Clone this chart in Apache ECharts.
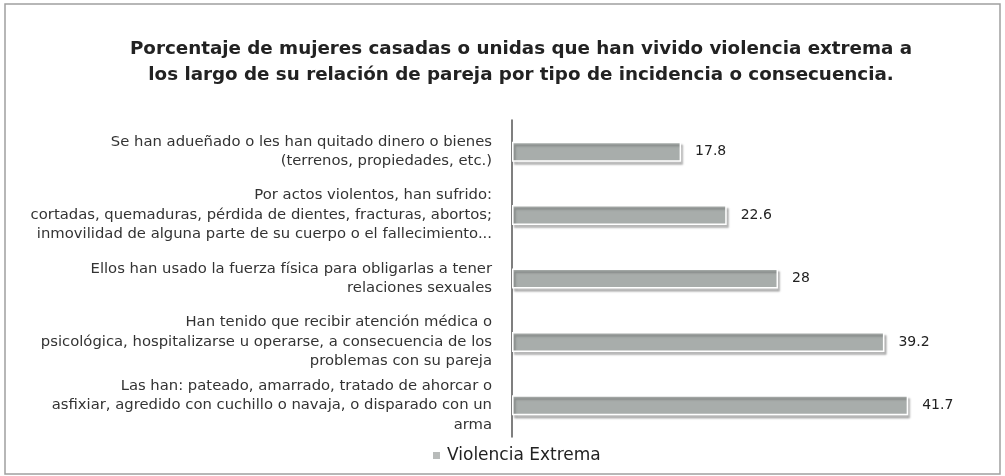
<!DOCTYPE html>
<html><head><meta charset="utf-8">
<script src="https://cdn.jsdelivr.net/npm/echarts@6/dist/echarts.min.js"></script>
<style>html,body{margin:0;padding:0;background:#fff}#c{width:1005px;height:476px}</style>
</head><body><div id="c"></div>
<script>
const titleText = 'Porcentaje de mujeres casadas o unidas que han vivido violencia extrema a\nlos largo de su relación de pareja por tipo de incidencia o consecuencia.';
const categories = [
  'Se han adueñado o les han quitado dinero o bienes\n(terrenos, propiedades, etc.)',
  'Por actos violentos, han sufrido:\ncortadas, quemaduras, pérdida de dientes, fracturas, abortos;\ninmovilidad de alguna parte de su cuerpo o el fallecimiento...',
  'Ellos han usado la fuerza física para obligarlas a tener\nrelaciones sexuales',
  'Han tenido que recibir atención médica o\npsicológica, hospitalizarse u operarse, a consecuencia de los\nproblemas con su pareja',
  'Las han: pateado, amarrado, tratado de ahorcar o\nasfixiar, agredido con cuchillo o navaja, o disparado con un\narma'
];
const seriesName = 'Violencia Extrema';
const values = [17.8, 22.6, 28, 39.2, 41.7];

const FONT = 'DejaVu Sans, Verdana, sans-serif';
const chart = echarts.init(document.getElementById('c'), null, {renderer: 'canvas'});
chart.setOption({
  backgroundColor: '#fff',
  animation: false,
  graphic: [{
    type: 'rect', shape: {x: 5, y: 4, width: 995, height: 470},
    style: {fill: 'none', stroke: '#a0a0a0', lineWidth: 1.5}, silent: true
  }],
  title: {
    text: titleText, left: 516, top: 31, textAlign: 'center',
    textStyle: {fontFamily: FONT, fontSize: 18.3, fontWeight: 'bold', color: '#222', lineHeight: 26}
  },
  legend: {
    bottom: 7, left: 428, itemWidth: 7, itemHeight: 7, icon: 'rect', itemGap: 4,
    textStyle: {fontFamily: FONT, fontSize: 17, color: '#222', padding: [0, 0, 0, 2]},
    data: [{name: seriesName, itemStyle: {color: '#b8bbba', borderWidth: 0, shadowBlur: 0}}]
  },
  grid: {left: 512, top: 120, width: 427.5, bottom: 39, containLabel: false},
  xAxis: {type: 'value', min: 0, max: 45, show: false},
  yAxis: {
    type: 'category', data: categories, inverse: true,
    axisLine: {show: true, lineStyle: {color: '#555', width: 1.5}},
    axisTick: {show: false},
    axisLabel: {fontFamily: FONT, fontSize: 14.8, color: '#333', lineHeight: 19.5, margin: 20, align: 'right'}
  },
  series: [{
    name: seriesName, type: 'bar', data: values, barWidth: 20,
    itemStyle: {color: '#a8adab', borderColor: '#ffffff', borderWidth: 1.5,
      shadowColor: 'rgba(0,0,0,0.25)', shadowBlur: 2, shadowOffsetX: 2, shadowOffsetY: 3},
    label: {show: true, position: 'right', distance: 14, fontFamily: FONT, fontSize: 14, color: '#222'}
  }]
});
</script></body></html>
